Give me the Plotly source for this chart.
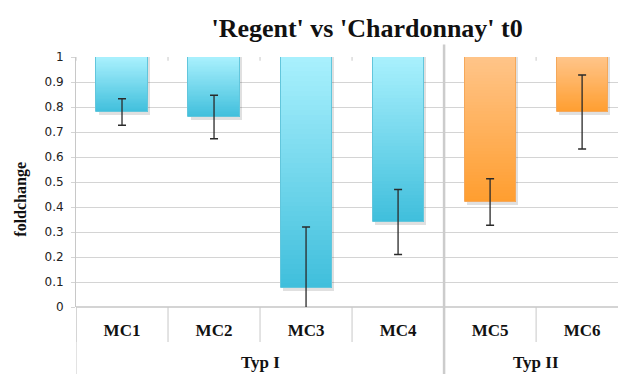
import plotly.graph_objects as go

# Fold change per marker, hanging from the reference level 1.0
categories = ["MC1", "MC2", "MC3", "MC4", "MC5", "MC6"]
groups = ["Typ I", "Typ I", "Typ I", "Typ I", "Typ II", "Typ II"]
foldchange = [0.78, 0.76, 0.075, 0.34, 0.42, 0.78]
error = [0.053, 0.087, 0.245, 0.13, 0.093, 0.148]
y_ticks = [0, 0.1, 0.2, 0.3, 0.4, 0.5, 0.6, 0.7, 0.8, 0.9, 1]
y_tick_text = ["0", "0.1", "0.2", "0.3", "0.4", "0.5", "0.6", "0.7", "0.8", "0.9", "1"]

REF = 1.0
GRID = "#d4d4d4"
SERIF = "Liberation Serif"

# gradient end colours (bottom, top) for each group
palette = {
    "Typ I": ((0x40, 0xbf, 0xdc), (0xa8, 0xf0, 0xfd)),
    "Typ II": ((0xff, 0x9e, 0x30), (0xff, 0xc4, 0x88)),
}
edge = {"Typ I": "#62c6dc", "Typ II": "#f5a85a"}


def mix(c0, c1, t):
    return "rgb(%d,%d,%d)" % tuple(round(a + (b - a) * t) for a, b in zip(c0, c1))


fig = go.Figure()
BAR_W = 0.555
N = 48

# soft drop shadow under each bar
fig.add_trace(go.Bar(
    x=categories, y=[v - REF - 0.01 for v in foldchange], base=[REF] * len(categories),
    width=BAR_W, offset=-BAR_W / 2 + 0.025, marker=dict(color="rgba(0,0,0,0.12)", line=dict(width=0)),
    hoverinfo="skip", showlegend=False,
))

# vertical gradient, built from stacked slices of each bar
for k in range(N):
    bases, heights, colors = [], [], []
    for v, g in zip(foldchange, groups):
        span = REF - v
        bases.append(v + span * k / N)
        heights.append(span / N * 1.06)
        lo, hi = palette[g]
        colors.append(mix(lo, hi, k / (N - 1)))
    fig.add_trace(go.Bar(
        x=categories, y=heights, base=bases, width=BAR_W,
        marker=dict(color=colors, line=dict(width=0)),
        hoverinfo="skip", showlegend=False,
    ))

# thin outline around each bar
fig.add_trace(go.Bar(
    x=categories, y=[v - REF for v in foldchange], base=[REF] * len(categories), width=BAR_W,
    marker=dict(color="rgba(0,0,0,0)", line=dict(color=[edge[g] for g in groups], width=1)),
    hoverinfo="skip", showlegend=False,
))

# error bars at the bar ends
fig.add_trace(go.Scatter(
    x=categories, y=foldchange, mode="markers", marker=dict(opacity=0),
    error_y=dict(type="data", array=error, color="#2a2a2a", thickness=1.3, width=4),
    hoverinfo="skip", showlegend=False,
))

shapes = []
n = len(categories)
# dividers between category labels
for i in range(n + 1):
    shapes.append(dict(type="line", xref="x", yref="paper", x0=i - 0.5, x1=i - 0.5,
                       y0=0, y1=-0.14, line=dict(color="#c8c8c8", width=1)))
    # small ticks along the top edge
    shapes.append(dict(type="line", xref="x", yref="paper", x0=i - 0.5, x1=i - 0.5,
                       y0=1, y1=0.985, line=dict(color="#c8c8c8", width=1)))
# group boundaries
bounds = [0] + [i for i in range(1, n) if groups[i] != groups[i - 1]]
shapes.append(dict(type="line", xref="x", yref="paper", x0=-0.5, x1=-0.5,
                   y0=0, y1=-0.3, line=dict(color="#c8c8c8", width=1)))
for b in bounds[1:]:
    shapes.append(dict(type="line", xref="x", yref="paper", x0=b - 0.5, x1=b - 0.5,
                       y0=-0.3, y1=1.05, line=dict(color="#cccccc", width=2.5)))

annotations = []
# group labels
spans = bounds + [n]
for s, e in zip(spans[:-1], spans[1:]):
    annotations.append(dict(x=(s + e - 1) / 2, y=-0.222, xref="x", yref="paper",
                            text="<b>%s</b>" % groups[s], showarrow=False,
                            font=dict(family=SERIF, size=17, color="#111"),
                            xanchor="center", yanchor="middle"))
# y axis title
annotations.append(dict(x=-0.103, y=0.43, xref="paper", yref="paper", text="<b>foldchange</b>",
                        textangle=-90, showarrow=False, xanchor="center", yanchor="middle",
                        font=dict(family=SERIF, size=16, color="#111")))

fig.update_layout(
    width=618, height=374,
    margin=dict(l=76, r=0, t=57, b=67),
    paper_bgcolor="white", plot_bgcolor="white",
    barmode="overlay", bargap=0,
    title=dict(text="<b>'Regent' vs 'Chardonnay' t0</b>", x=0.594, xanchor="center",
               y=0.925, yanchor="middle", font=dict(family=SERIF, size=26, color="#111")),
    xaxis=dict(type="category", range=[-0.5, 5.39], showgrid=False, ticks="",
               showline=False, zeroline=False, ticklabelstandoff=11,
               tickfont=dict(family=SERIF, size=17, color="#111", weight="bold")),
    yaxis=dict(range=[0, 1], tickvals=y_ticks, ticktext=y_tick_text, showgrid=True,
               gridcolor=GRID, gridwidth=1, zeroline=True, zerolinecolor=GRID,
               showline=True, linecolor="#c8c8c8", linewidth=1,
               ticks="outside", ticklen=4, tickcolor=GRID, ticklabelstandoff=5,
               tickfont=dict(family="DejaVu Sans", size=12, color="#222")),
    shapes=shapes, annotations=annotations,
)

fig.write_html("out.html")
